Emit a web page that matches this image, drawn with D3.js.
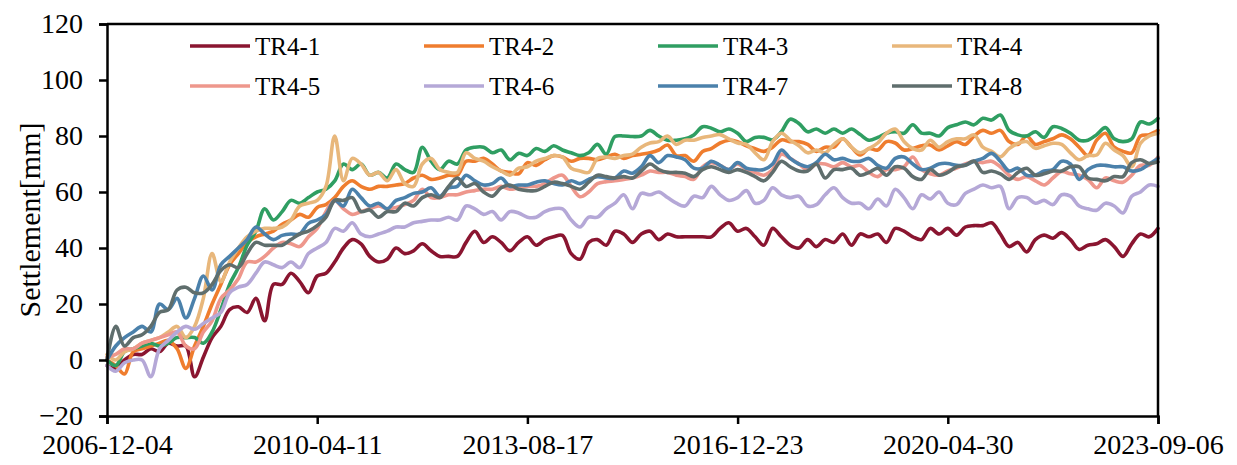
<!DOCTYPE html>
<html>
<head>
<meta charset="utf-8">
<script src="https://cdn.jsdelivr.net/npm/d3@7"></script>
<style>
  html, body { margin: 0; padding: 0; background: #fff; }
  svg { display: block; }
  text { font-family: "Liberation Serif", "Times New Roman", serif; fill: #000; }
</style>
</head>
<body>
<svg id="chart" width="1237" height="465"></svg>
<script>
// ---------------- DATA ----------------
const startDate = "2006-12-04";
const stepDays = 51;            // sampling interval of the readings
const nPoints = 121;
const tickDates = ["2006-12-04", "2010-04-11", "2013-08-17", "2016-12-23", "2020-04-30", "2023-09-06"];
const yTicks = [-20, 0, 20, 40, 60, 80, 100, 120];
const seriesNames = ["TR4-1", "TR4-2", "TR4-3", "TR4-4", "TR4-5", "TR4-6", "TR4-7", "TR4-8"];

const tr41 = [-2,-3,0,2,2,4,3,6,5,5,-6,1,8,12,18,19,17,22,14,27,27,31,28,24,30,31,35,40,43,41.5,37,35,36,40,38,39,41.5,39,37,37,
  37,42,46,42,44,42,39,42,44,41,43,44,44.5,38,36,42,43,41,46,45,42,45,46,43,45,44,44,44,44,44,47,49,46,47,44,41,47,44,41,40,
  43,40.5,43,42,45,41,45,44,45,42,47,46,44,43,47,45,47,44.6,47.5,48,48,49,45,40.5,42,38.6,43,44.6,43.5,45.5,43,39.5,41,41.5,43,40.5,37,41.5,45,44,47];
const tr42 = [0,-2,-5,3,4,5,6,7,4,-3,5,12,20,27,34,38,42,44,45,46,48.5,50,52,51,54.5,55.5,58,62,64,62,61,62,62,62.5,63,65,66,64.5,65,66,
  66,71,71,72,70,67.5,67,66.5,70.5,69.5,71.5,73,72.5,71,72,72,71.5,72.5,73.5,72,73,73.5,74,75,76.8,73,73,71,74.5,75.5,77.5,78.5,78,76.5,75.5,74.5,76,78.6,78,78,
  77,74.5,76,76,79,76,73.2,75.5,75,78,77.5,75,75.5,76.5,76.8,75,76.5,78,77,80,82,81,82,78,77,80,77,78,79,80.4,79,76,73,78.5,81,76,74.5,74,80,80.5,82];
const tr43 = [0,-2,3,4,5,6,5,6,8,8,8,6,10,18,27,33,41,46,54,50,53,57,56,58,60,61,64,70,68,70,66,67,65,70,68,67,76,71,68,71,
  70,75,76,76,74,75,71.5,73.8,73,75.5,74.5,76.5,75,74,73,74,77,73.5,79.8,80,79.8,80,82,80,78.5,78.5,79,80.4,83.3,82.8,81.5,82.5,81,78,79.5,79.5,78.6,81.5,86,84.5,
  81.5,82.5,81,82.5,81,82.5,80.5,78.5,79.5,81,81.5,81,84,81,81,80,83,84,85,84,86.3,85.7,87.5,82,80.4,80,81.5,79.5,83.3,82.7,81,78.5,78.5,80.5,83,79,78,79,85,84.3,86.3];
const tr44 = [2,0,3,4,6,7,8,10,12,8,12,22,38,28,35,40,44,46,47,47,47.5,50,55,56,57,62,80,64,72,70,66,67,64,68,63,62,70,72,68,67,
  67,74,72,71,69,67.5,66,68.5,69,71,72,73,72.5,68.5,67.5,67,72,72.5,72,73,73.5,76,77.5,78,80,77,78.5,78.5,79.5,80,80.5,79,77.5,77,74,71.5,78,81,78.5,76.5,
  74,75,74,77,79,76,74,75.5,77.5,81,82.5,78,75.5,75,78.5,76,78,79,79,80.4,76,74.5,72.6,75.5,77.4,78,75.6,76.5,77.4,77,74,71.5,73,73.2,77.4,75,73,69,77.4,80,81];
const tr45 = [1,2,4,4,6,7,8,9,10,5,4,10,14,22,25,29,35,35,37,40,42,41.5,40.5,44,47,53,57,54,52,53,54,55,54,54.5,55.5,57,61,58,58,59,
  59,60,60.5,61,61,62,61,61.5,62,62,63,65,66,62,58.3,60,63,63.7,64,64.5,65,66,67.5,67,67,66,65.5,64.5,69,70.5,69.5,68,70,68,67,66,68,73.5,72,70,
  68,70,70,69,70.5,69,69.5,67,65.5,68,68,69,72.5,68,66.5,66,67.5,68.5,70,71,70.5,71,69,66,64.5,65.5,64,62.5,65,67.3,66.5,66,64.5,61.5,65,64,63.5,66,69.5,69.5,72.5];
const tr46 = [-2,-4,-1,0,0,-6,4,7,10,12,11,13,15,17,24,26,27,31,35,34,33,35,33,38,40,42,47,46,49,45,44,45,46,47.5,47.5,49,49.5,50,50,51,
  50,55,54,52,53,50,53,52.5,51,51,53,54,54,50,47.5,51,51,54,56,59,54,59.5,59,60,58,56,55,58.5,58,62,59,57,58,60.5,56,57,61.5,59,58,58.5,
  55,55.5,59,61.5,58,56,56,54,57.5,55,61,58,54,59,57.5,60,56,55.5,59.5,61,62.5,61.5,62,54,58,58,56,57,55.5,59,58.5,55,54,53.5,56,55,52.5,58.5,60,62.5,62];
const tr47 = [0,5,8,10,12,10,20,18,22,15,22,30,25,34,37,40,43,47.5,45,43,44.5,45,45,48.8,50,52,57,55,61,58,55,56,54,57,58,59.5,60,61.5,58.5,61.5,
  62,66,64,62.5,63,65,62,62.5,62.5,63.5,64,63,62.5,64,63,64.5,65.5,65,65,67.5,66.7,69,73,70.5,73,72.5,71.5,68.5,68.5,71,69.5,68,70.5,68.5,68,68,70,75,72,70,
  69,70.5,73.5,71.5,72,71,71,72,69.5,68.5,72,72.5,70,68,68.5,70,70.2,69.5,69.6,71,72,73.8,71,67.5,68.5,66,66,67.5,68,71,70,64.5,68,69.5,69.5,69,69,67.5,68,70,72];
const tr48 = [0,12,5,8,9,12,17,18,25,26,24,24,27,32,34,33,38,42,41,41,41,43,45,46,48,51,57,57,58,53,53.6,51,53,53,56,55,58,59,58,62,
  65,62,63,60,58.5,61.5,62.5,61,60.5,60.5,62,63.5,63,62,61,63.5,66,65.5,65,65.5,65,67.5,70,68,67,67,66.7,65.5,68,69,68,67,68,67,65.5,64,67,71,69,67.5,
  67.5,70,65,68,68,68.5,66,67,68.5,66,69,68.5,65.5,64.5,68,66,67,69,69.5,71,67,67.5,66.5,64.5,67,68.5,66,66.5,67.5,67.5,69,69,65,64.5,64,65.5,65.5,70.5,71.5,70.2,70.8];

const seriesValues = [tr41, tr42, tr43, tr44, tr45, tr46, tr47, tr48];
const seriesColors = ["#8a1530", "#ef7d2e", "#2f9e62", "#e8b77b", "#ee978c", "#b5a8d7", "#4b81ab", "#5f6e6d"];

// ---------------- LAYOUT ----------------
const svg = d3.select("#chart");
const margin = { left: 107, right: 1237 - 1158, top: 24, bottom: 465 - 416 };
const W = 1237, H = 465;

const parse = d3.utcParse("%Y-%m-%d");
const t0 = parse(startDate);
const dates = d3.range(nPoints).map(i => d3.utcDay.offset(t0, i * stepDays));

const x = d3.scaleUtc()
  .domain([parse(tickDates[0]), parse(tickDates[tickDates.length - 1])])
  .range([margin.left, W - margin.right]);
const y = d3.scaleLinear().domain([-20, 120]).range([H - margin.bottom, margin.top]);

// series lines
const line = d3.line()
  .x((d, i) => x(dates[i]))
  .y(d => y(d))
  .curve(d3.curveCatmullRom.alpha(0.5));

const g = svg.append("g");
seriesValues.forEach((vals, k) => {
  g.append("path")
    .datum(vals)
    .attr("fill", "none")
    .attr("stroke", seriesColors[k])
    .attr("stroke-width", 3.6)
    .attr("stroke-linejoin", "round")
    .attr("stroke-linecap", "round")
    .attr("d", line);
});

// frame (top & right)
svg.append("line")
  .attr("x1", x.range()[0]).attr("x2", x.range()[1])
  .attr("y1", y(120)).attr("y2", y(120))
  .attr("stroke", "#000").attr("stroke-width", 2.5);
svg.append("line")
  .attr("x1", x.range()[1]).attr("x2", x.range()[1])
  .attr("y1", y(120)).attr("y2", y(-20))
  .attr("stroke", "#000").attr("stroke-width", 2.5);

// axes
const xAxis = d3.axisBottom(x)
  .tickValues(tickDates.map(parse))
  .tickFormat(d3.utcFormat("%Y-%m-%d"))
  .tickSize(8).tickPadding(10);
const gx = svg.append("g").attr("transform", `translate(0,${y(-20)})`).call(xAxis);
gx.select(".domain").attr("stroke", "#000").attr("stroke-width", 2.5);
gx.selectAll(".tick line").attr("stroke", "#000").attr("stroke-width", 2.5);
gx.selectAll(".tick text").attr("font-size", 28).attr("font-family", "Liberation Serif").attr("fill", "#000");

const yAxis = d3.axisLeft(y)
  .tickValues(yTicks)
  .tickFormat(d => d < 0 ? "\u2212" + Math.abs(d) : d)
  .tickSize(8).tickPadding(16);
const gy = svg.append("g").attr("transform", `translate(${x.range()[0]},0)`).call(yAxis);
gy.select(".domain").attr("stroke", "#000").attr("stroke-width", 2.5);
gy.selectAll(".tick line").attr("stroke", "#000").attr("stroke-width", 2.5);
gy.selectAll(".tick text").attr("font-size", 28).attr("font-family", "Liberation Serif").attr("fill", "#000");

// y title
svg.append("text")
  .attr("transform", `translate(40,${(y(120) + y(-20)) / 2}) rotate(-90)`)
  .attr("text-anchor", "middle")
  .attr("font-size", 30)
  .text("Settlement[mm]");

// legend
const legX = [190, 424, 658, 892];
const legY = [46, 86];
const leg = svg.append("g");
seriesNames.forEach((name, k) => {
  const cx = legX[k % 4], cy = legY[Math.floor(k / 4)];
  leg.append("line")
    .attr("x1", cx).attr("x2", cx + 60)
    .attr("y1", cy).attr("y2", cy)
    .attr("stroke", seriesColors[k]).attr("stroke-width", 3.6);
  leg.append("text")
    .attr("x", cx + 65).attr("y", cy)
    .attr("dy", "0.35em")
    .attr("font-size", 25)
    .text(name);
});
</script>
</body>
</html>
